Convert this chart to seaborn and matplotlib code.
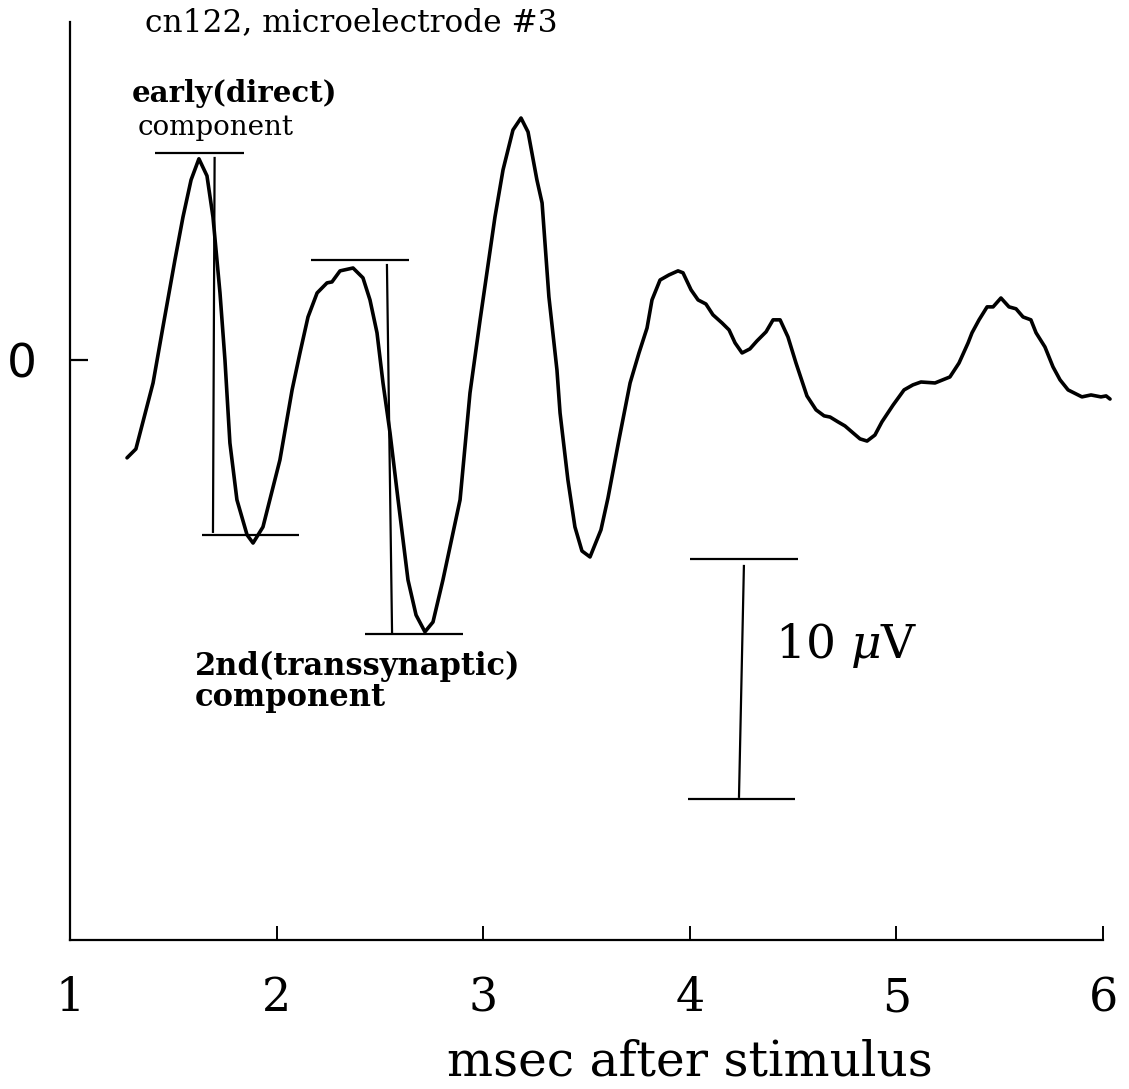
import numpy as np
import pandas as pd
import matplotlib
matplotlib.use("Agg")
import matplotlib.pyplot as plt
import seaborn as sns

# ---- data ----
time_ms = [1.276, 1.319, 1.402, 1.450, 1.508, 1.547, 1.586, 1.624, 1.663, 1.692,
           1.726, 1.750, 1.774, 1.808, 1.857, 1.886, 1.934, 2.016, 2.075, 2.113,
           2.152, 2.196, 2.244, 2.268, 2.307, 2.370, 2.418, 2.452, 2.486, 2.515,
           2.549, 2.588, 2.612, 2.636, 2.675, 2.718, 2.757, 2.805, 2.888, 2.936,
           2.985, 3.057, 3.096, 3.144, 3.183, 3.217, 3.260, 3.285, 3.318, 3.357,
           3.372, 3.410, 3.444, 3.478, 3.517, 3.570, 3.604, 3.657, 3.711, 3.754,
           3.793, 3.817, 3.856, 3.899, 3.943, 3.967, 4.006, 4.040, 4.078, 4.112,
           4.156, 4.190, 4.219, 4.253, 4.291, 4.325, 4.369, 4.403, 4.437, 4.475,
           4.514, 4.567, 4.611, 4.650, 4.679, 4.717, 4.751, 4.790, 4.824, 4.858,
           4.896, 4.930, 4.984, 5.037, 5.080, 5.119, 5.187, 5.259, 5.303, 5.347,
           5.366, 5.400, 5.439, 5.468, 5.506, 5.545, 5.579, 5.613, 5.651, 5.676,
           5.719, 5.758, 5.792, 5.831, 5.898, 5.942, 5.990, 6.015, 6.034]
potential_uV = [-4.08, -3.71, -0.96, 1.38, 4.17, 5.96, 7.50, 8.38, 7.67, 5.96,
                2.79, 0.00, -3.46, -5.83, -7.29, -7.63, -6.96, -4.17, -1.25, 0.29,
                1.79, 2.79, 3.21, 3.25, 3.71, 3.83, 3.42, 2.50, 1.13, -0.96,
                -3.04, -5.83, -7.50, -9.17, -10.63, -11.33, -10.92, -9.17, -5.83, -1.38,
                1.67, 5.96, 7.92, 9.58, 10.08, 9.50, 7.50, 6.54, 2.63, -0.42,
                -2.21, -5.00, -6.96, -7.96, -8.21, -7.08, -5.75, -3.33, -0.96, 0.29,
                1.33, 2.50, 3.33, 3.54, 3.71, 3.63, 2.92, 2.50, 2.33, 1.88,
                1.54, 1.25, 0.71, 0.29, 0.46, 0.79, 1.17, 1.67, 1.67, 0.96,
                -0.13, -1.50, -2.08, -2.33, -2.38, -2.58, -2.75, -3.04, -3.29, -3.38,
                -3.13, -2.58, -1.88, -1.25, -1.04, -0.92, -0.96, -0.71, -0.13, 0.71,
                1.13, 1.67, 2.21, 2.21, 2.58, 2.21, 2.13, 1.79, 1.67, 1.13,
                0.54, -0.29, -0.83, -1.25, -1.54, -1.46, -1.54, -1.50, -1.63]

x_ticks = [1, 2, 3, 4, 5, 6]
x_tick_labels = ["1", "2", "3", "4", "5", "6"]
y_ticks = [0]
y_tick_labels = ["0"]

# amplitude markers: (x_start, x_end, y)
early_peak_line = (1.411, 1.842, 8.63)
early_trough_line = (1.639, 2.108, -7.29)
early_vert = (1.700, 1.692, 8.46, -7.21)
second_peak_line = (2.166, 2.641, 4.15)
second_trough_line = (2.428, 2.902, -11.42)
second_vert = (2.534, 2.559, 4.00, -11.46)
# 10 uV scale bar
scale_top = (4.001, 4.524, -8.29)
scale_bottom = (3.991, 4.509, -18.30)
scale_vert = (4.262, 4.238, -8.54, -18.25)

title_text = "cn122, microelectrode #3"
x_label = "msec after stimulus"
scale_label = r"10 $\mu$V"

df = pd.DataFrame({"time": time_ms, "uV": potential_uV})

sns.set_style("white")
plt.rcParams["font.family"] = ["DejaVu Serif", "DejaVu Sans"]
plt.rcParams["mathtext.fontset"] = "dejavuserif"
plt.rcParams["text.color"] = "black"
plt.rcParams["axes.labelcolor"] = "black"
plt.rcParams["xtick.color"] = "black"
plt.rcParams["ytick.color"] = "black"

fig = plt.figure(figsize=(11.29, 10.89), dpi=100)
ax = fig.add_axes([70 / 1129, 149 / 1089, 1033 / 1129, 918 / 1089])

sns.lineplot(data=df, x="time", y="uV", ax=ax, color="black",
             linewidth=2.6, estimator=None, sort=False)
for l in ax.lines:
    l.set_clip_on(False)

lw_mark = 1.6
for (x0, x1, y) in [early_peak_line, early_trough_line, second_peak_line,
                    second_trough_line, scale_top, scale_bottom]:
    ax.plot([x0, x1], [y, y], color="black", lw=lw_mark, solid_capstyle="butt")
for (x0, x1, y0, y1) in [early_vert, second_vert, scale_vert]:
    ax.plot([x0, x1], [y0, y1], color="black", lw=lw_mark, solid_capstyle="butt")

ax.set_xlim(1, 6)
ax.set_ylim(-24.17, 14.08)

ax.set_xticks(x_ticks)
ax.set_xticklabels(x_tick_labels, fontsize=33, family="DejaVu Serif")
ax.set_yticks(y_ticks)
ax.set_yticklabels(y_tick_labels, fontsize=34, family="DejaVu Sans")
ax.tick_params(axis="x", which="major", bottom=True, direction="in", length=10,
               width=1.4, pad=26, colors="black")
ax.tick_params(axis="y", which="major", left=True, direction="in", length=13,
               width=1.6, pad=24, colors="black")

for s in ["top", "right"]:
    ax.spines[s].set_visible(False)
for s in ["left", "bottom"]:
    ax.spines[s].set_linewidth(1.6)
    ax.spines[s].set_color("black")

ax.set_ylabel("")
ax.set_xlabel(x_label, fontsize=35, family="DejaVu Serif", color="black")
ax.xaxis.set_label_coords(0.600, -0.133)
ax.xaxis.label.set_va("center")

fig.text(145 / 1129, 1 - 23 / 1089, title_text, fontsize=22.5, va="center",
         ha="left", color="black")

ax.text(1.300, 10.75, "early(direct)", fontsize=21, fontweight="bold",
        va="baseline", ha="left", color="black")
ax.text(1.329, 9.38, "component", fontsize=20, va="baseline", ha="left", color="black")
ax.text(1.605, -13.12, "2nd(transsynaptic)", fontsize=22, fontweight="bold",
        va="baseline", ha="left", color="black")
ax.text(1.605, -14.40, "component", fontsize=22, fontweight="bold",
        va="baseline", ha="left", color="black")
ax.text(4.412, -11.90, scale_label, fontsize=34, va="center", ha="left", color="black")

fig.savefig("out.png", dpi=100, facecolor="white")
